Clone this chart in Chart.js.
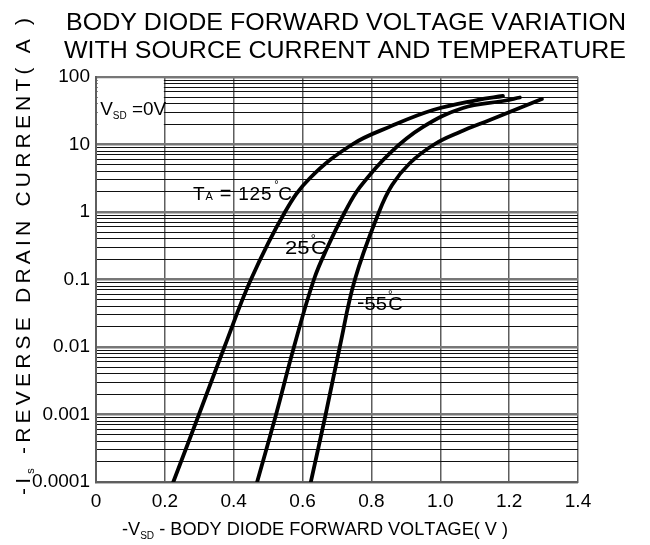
<!DOCTYPE html>
<html><head><meta charset="utf-8">
<script src="https://cdn.jsdelivr.net/npm/chart.js@4.4.0/dist/chart.umd.min.js"></script>
<style>html,body{margin:0;padding:0;background:#fff}#wrap{width:650px;height:545px}</style>
</head><body><div id="wrap"><canvas id="c" width="650" height="545"></canvas></div>
<script>
// ---- data ----
const xTickLabels = ['0','0.2','0.4','0.6','0.8','1.0','1.2','1.4'];
const yTickLabels = ['0.0001','0.001','0.01','0.1','1','10','100'];
const yDecades = [0.0001,0.001,0.01,0.1,1,10,100];

// T_A = 125 °C
const v125 = [0.2245,0.299,0.373,0.450,0.549,0.621,0.744,0.854,0.979,1.107,1.182];
const i125 = [0.0001,0.001,0.01,0.1,1,3.16,10,18.4,32.4,45.6,52.3];
// 25 °C
const v25 = [0.468,0.523,0.575,0.633,0.674,0.723,0.767,0.854,0.950,1.066,1.182,1.231];
const i25 = [0.0001,0.001,0.01,0.1,0.313,1,2.35,7.48,18.2,34.7,44.1,49.7];
// -55 °C
const vm55 = [0.624,0.667,0.708,0.752,0.822,0.860,0.912,0.982,1.057,1.144,1.223,1.295];
const im55 = [0.0001,0.001,0.01,0.1,1,2.51,5.32,10,15.3,23.1,33.6,47.2];

const titleLines = ['BODY DIODE FORWARD VOLTAGE VARIATION','WITH SOURCE CURRENT AND TEMPERATURE'];

const FONT = '"Liberation Sans", Arial, Helvetica, sans-serif';

function runsWidth(ctx, runs){
  let w = 0;
  for (const r of runs){ ctx.font = r.size + 'px ' + FONT; for (const ch of r.t){ w += r.noAdv ? 0 : ctx.measureText(ch).width; } }
  return w;
}
function drawRuns(ctx, runs, x, y, opts){
  opts = opts || {};
  ctx.save();
  ctx.translate(x, y);
  if (opts.rotate) ctx.rotate(opts.rotate);
  const nat = runsWidth(ctx, runs);
  let sx = 1, sp = 0;
  const nChars = runs.reduce((a, r) => a + (r.noAdv ? 0 : [...r.t].length), 0);
  if (opts.width){
    if (opts.mode === 'space') sp = (opts.width - nat) / (nChars - 1);
    else sx = opts.width / nat;
  }
  ctx.scale(sx, 1);
  ctx.textBaseline = 'alphabetic'; ctx.textAlign = 'left'; ctx.fillStyle = '#000';
  let cx = 0;
  for (const r of runs){
    ctx.font = r.size + 'px ' + FONT;
    for (const ch of r.t){
      ctx.fillText(ch, cx + (r.dx || 0), r.dy || 0);
      if (!r.noAdv) cx += ctx.measureText(ch).width + sp;
    }
  }
  ctx.restore();
}

const isDecade = v => yDecades.some(d => Math.abs(v - d) / d < 1e-9);

const blankBox = {
  id: 'blankBox',
  beforeDatasetsDraw(chart){
    const {ctx, scales:{x, y}} = chart;
    const x0 = x.getPixelForValue(0) + 1.5, x1 = x.getPixelForValue(0.2) - 1;
    const y0 = y.getPixelForValue(100) + 1.5, y1 = y.getPixelForValue(10) - 1.5;
    ctx.save(); ctx.fillStyle = '#fff'; ctx.fillRect(x0, y0, x1 - x0, y1 - y0); ctx.restore();
  }
};

const texts = {
  id: 'texts',
  afterDraw(chart){
    const {ctx, scales:{x, y}} = chart;
    // title
    drawRuns(ctx, [{t:titleLines[0], size:24}], 66, 30, {width:560});
    drawRuns(ctx, [{t:titleLines[1], size:24}], 64, 58, {width:562});
    // y axis title
    drawRuns(ctx, [
      {t:'-I', size:21},
      {t:'s', size:11, dy:4},
      {t:' -REVERSE DRAIN CURRENT( A )', size:21}
    ], 30, 495, {rotate:-Math.PI/2, width:477, mode:'space'});
    // x axis title
    drawRuns(ctx, [
      {t:'-V', size:18},
      {t:'SD', size:10, dy:4},
      {t:' - BODY DIODE FORWARD VOLTAGE( V )', size:18}
    ], 122, 535, {width:386});
    // annotations (anchored in data coordinates)
    drawRuns(ctx, [{t:'V', size:19},{t:'SD', size:10, dy:4},{t:' =0V', size:19}],
      x.getPixelForValue(0.012), y.getPixelForValue(27.4), {width:66});
    drawRuns(ctx, [{t:'T', size:19},{t:'A', size:11},{t:' ', size:19},{t:'=', size:20},{t:' 125 ', size:19},{t:'°', size:11, dy:-12, dx:-4, noAdv:true},{t:'C', size:19}],
      x.getPixelForValue(0.282), y.getPixelForValue(1.51), {width:99, mode:'space'});
    drawRuns(ctx, [{t:'25', size:19},{t:'°', size:11, dy:-12, dx:1, noAdv:true},{t:' ', size:5},{t:'C', size:19}],
      x.getPixelForValue(0.549), y.getPixelForValue(0.239), {width:42});
    drawRuns(ctx, [{t:'-', size:21, dy:-1},{t:'55', size:19},{t:'°', size:11, dy:-12, dx:1, noAdv:true},{t:' ', size:5},{t:'C', size:19}],
      x.getPixelForValue(0.758), y.getPixelForValue(0.0354), {width:46});
  }
};

const yTicks = [];
for (let k = 0; k < yDecades.length - 1; k++) for (let m = 1; m <= 9; m++) yTicks.push(m * yDecades[k]);
yTicks.push(yDecades[yDecades.length - 1]);

const mk = (vs, is) => vs.map((v, i) => ({x: v, y: is[i]}));
const ds = (data) => ({data, borderColor:'#000', borderWidth:3.8, pointRadius:0, fill:false, tension:0.4, borderCapStyle:'round', borderJoinStyle:'round'});

new Chart(document.getElementById('c'), {
  type: 'line',
  data: { datasets: [ds(mk(v125, i125)), ds(mk(v25, i25)), ds(mk(vm55, im55))] },
  options: {
    responsive: false, animation: false, devicePixelRatio: 1,
    layout: { padding: { top: 77, right: 72, left: 0, bottom: 0 } },
    plugins: { legend: { display: false }, tooltip: { enabled: false }, title: { display: false } },
    scales: {
      x: {
        type: 'linear', min: 0, max: 1.4,
        afterFit: s => { s.height = 63; },
        afterBuildTicks: s => { s.ticks = xTickLabels.map((t, i) => ({value: i * 0.2})); },
        ticks: { autoSkip: false, padding: 8, color: '#000', font: { family: FONT, size: 19 },
          callback: (v, i) => xTickLabels[i] },
        grid: { color: '#5e5e5e', lineWidth: 1.5, drawTicks: false },
        border: { color: '#5e5e5e', width: 2 }
      },
      y: {
        type: 'logarithmic', min: 0.0001, max: 100,
        afterFit: s => { s.width = 96; },
        afterBuildTicks: s => { s.ticks = yTicks.map(v => ({value: v, major: isDecade(v)})); },
        ticks: { autoSkip: false, padding: 6, color: '#000', font: { family: FONT, size: 19 },
          callback: (v) => { const k = yDecades.findIndex(d => Math.abs(v - d) / d < 1e-9); return k >= 0 ? yTickLabels[k] : ''; } },
        grid: { drawTicks: false,
          color: c => isDecade(c.tick.value) ? '#777' : '#111',
          lineWidth: c => isDecade(c.tick.value) ? 2.5 : 1 },
        border: { color: '#5e5e5e', width: 2 }
      }
    }
  },
  plugins: [blankBox, texts]
});
</script></body></html>
